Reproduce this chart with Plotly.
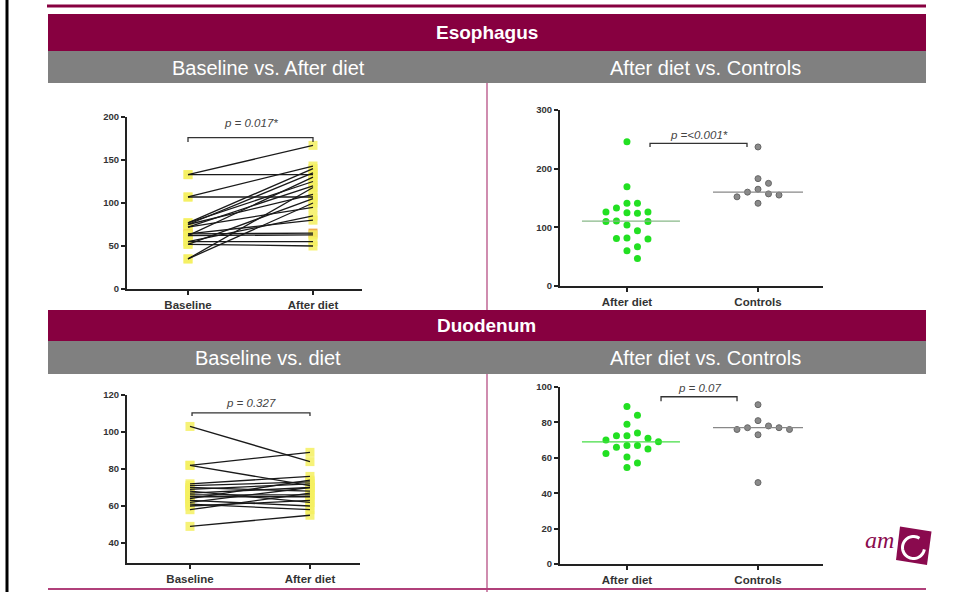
import numpy as np
import plotly.graph_objects as go

W, H = 953, 592
MAROON = "#870040"
BAND_GRAY = "#808080"
LINE_PINK = "#b0407a"

# ---- Esophagus: paired baseline -> after diet ----
eso_baseline = [133, 133, 107, 107, 77, 77, 75, 75, 72, 72, 64, 64, 62, 62, 55, 55, 52, 52, 35, 35]
eso_after = [167, 133, 143, 107, 140, 125, 135, 110, 120, 95, 65, 80, 130, 63, 85, 55, 50, 105, 118, 100]
eso_highlight = [10]  # pair drawn with orange end markers

# ---- Esophagus: after diet vs controls ----
eso_diet_group = [246, 169, 141, 141, 133, 126, 126, 125, 124, 111, 110, 110, 104, 94, 82, 81, 80, 67, 60, 47]
eso_controls = [237, 183, 175, 165, 160, 157, 155, 152, 141]

# ---- Duodenum: paired baseline -> after diet ----
duo_baseline = [103, 82, 82, 72, 71, 70, 69, 68, 67, 66, 65, 64, 63, 62, 61, 60, 58, 49]
duo_after = [84, 89, 71, 76, 73, 68, 72, 62, 70, 66, 65, 74, 60, 70, 58, 63, 67, 55]

# ---- Duodenum: after diet vs controls ----
duo_diet_group = [89, 84, 79, 74, 72.5, 72.5, 71, 70, 69, 67, 67, 66, 65, 62.5, 60.5, 57, 54.5]
duo_controls = [90, 81, 78, 77, 77, 76, 76, 73, 46]

paired_labels = ["Baseline", "After diet"]
group_labels = ["After diet", "Controls"]
p_texts = ["p = 0.017*", "p =<0.001*", "p = 0.327", "p = 0.07"]
band_titles = ["Esophagus", "Duodenum"]
left_titles = ["Baseline vs. After diet", "Baseline vs. diet"]
right_titles = ["After diet vs. Controls", "After diet vs. Controls"]


def px(x):
    return x / W


def py(y):
    return 1 - y / H


# panel frames in pixels: (x0, x1), (ytop, ybottom), axis ranges
panels = {
    1: dict(xpx=(127, 362), ypx=(117, 289), xr=(0.512, 2.392), yr=(0, 200), ticks=[0, 50, 100, 150, 200], labels=paired_labels),
    2: dict(xpx=(560, 823), ypx=(110, 286), xr=(0.489, 2.496), yr=(0, 300), ticks=[0, 100, 200, 300], labels=group_labels),
    3: dict(xpx=(127, 360), ypx=(395, 563), xr=(0.475, 2.417), yr=(29.2, 120), ticks=[40, 60, 80, 100, 120], labels=paired_labels),
    4: dict(xpx=(560, 823), ypx=(387, 564), xr=(0.489, 2.496), yr=(0, 100), ticks=[0, 20, 40, 60, 80, 100], labels=group_labels),
}


def scale(p):
    s = panels[p]
    ux = (s["xpx"][1] - s["xpx"][0]) / (s["xr"][1] - s["xr"][0])
    uy = (s["ypx"][1] - s["ypx"][0]) / (s["yr"][1] - s["yr"][0])
    return ux, uy


def swarm(values, center, p, step=10.5, diam=9.0):
    """Simple beeswarm: spread points sideways so markers do not overlap."""
    ux, uy = scale(p)
    placed = []
    xs = [0.0] * len(values)
    cands = [0]
    for j in range(1, 12):
        cands += [j, -j]
    for i in np.argsort(values)[::-1]:
        yp = values[i] * uy
        for c in cands:
            xp = c * step
            if all((xp - a) ** 2 + (yp - b) ** 2 >= diam ** 2 for a, b in placed):
                break
        placed.append((xp, yp))
        xs[i] = center + xp / ux
    return xs


fig = go.Figure()


def ax(p):
    return ("x" if p == 1 else f"x{p}"), ("y" if p == 1 else f"y{p}")


def paired(p, base, after, highlight=()):
    xa, ya = ax(p)
    mx, my, mc = [], [], []
    for i, (b, a) in enumerate(zip(base, after)):
        col = "#f0a030" if i in highlight else "#f4f060"
        mx += [1, 2]
        my += [b, a]
        mc += [col, col]
    fig.add_trace(go.Scatter(x=mx, y=my, mode="markers", xaxis=xa, yaxis=ya,
                             marker=dict(symbol="square", size=9, color=mc, opacity=0.85,
                                         line=dict(width=0)),
                             hoverinfo="skip", showlegend=False))
    lx, ly = [], []
    for b, a in zip(base, after):
        lx += [1, 2, None]
        ly += [b, a, None]
    fig.add_trace(go.Scatter(x=lx, y=ly, mode="lines", xaxis=xa, yaxis=ya,
                             line=dict(color="#1a1a1a", width=1.3),
                             hoverinfo="skip", showlegend=False))


def groups(p, diet, ctrl):
    xa, ya = ax(p)
    ux, _ = scale(p)
    gx = swarm(diet, 1, p)
    cx = swarm(ctrl, 2, p)
    fig.add_trace(go.Scatter(x=gx, y=diet, mode="markers", xaxis=xa, yaxis=ya,
                             marker=dict(size=7, color="#22e022", line=dict(width=0)),
                             hoverinfo="skip", showlegend=False))
    fig.add_trace(go.Scatter(x=cx, y=ctrl, mode="markers", xaxis=xa, yaxis=ya,
                             marker=dict(size=6, color="#8a8a8a", line=dict(width=1, color="#666")),
                             hoverinfo="skip", showlegend=False))
    md = float(np.median(diet))
    mc = float(np.median(ctrl))
    fig.add_trace(go.Scatter(x=[1 - 45 / ux, 1 + 53 / ux], y=[md, md], mode="lines", xaxis=xa, yaxis=ya,
                             line=dict(color="#44dd44" if p == 4 else "#88b888", width=1.3),
                             hoverinfo="skip", showlegend=False))
    fig.add_trace(go.Scatter(x=[2 - 45 / ux, 2 + 45 / ux], y=[mc, mc], mode="lines", xaxis=xa, yaxis=ya,
                             line=dict(color="#888888", width=1.3),
                             hoverinfo="skip", showlegend=False))


paired(1, eso_baseline, eso_after, eso_highlight)
groups(2, eso_diet_group, eso_controls)
paired(3, duo_baseline, duo_after)
groups(4, duo_diet_group, duo_controls)

# significance brackets: (panel, x0, x1, bar y, tick drop, text y, text)
brackets = [
    (1, 1.0, 2.0, 176, 5, 193, p_texts[0]),
    (2, 1.176, 1.916, 243, 6, 258, p_texts[1]),
    (3, 1.017, 2.0, 110.3, 1.7, 115.8, p_texts[2]),
    (4, 1.26, 1.84, 94.5, 2.5, 99.6, p_texts[3]),
]
annotations = []
for p, x0, x1, yb, drop, yt, txt in brackets:
    xa, ya = ax(p)
    fig.add_trace(go.Scatter(x=[x0, x0, x1, x1], y=[yb - drop, yb, yb, yb - drop], mode="lines",
                             xaxis=xa, yaxis=ya, line=dict(color="#333", width=1.3),
                             hoverinfo="skip", showlegend=False))
    annotations.append(dict(x=(x0 + x1) / 2, y=yt, xref=xa, yref=ya, text=f"<i>{txt}</i>",
                            xanchor="center", yanchor="middle",
                            showarrow=False, font=dict(size=11.5, color="#444", family="Liberation Sans")))

layout_axes = {}
for p, s in panels.items():
    xname = "xaxis" if p == 1 else f"xaxis{p}"
    yname = "yaxis" if p == 1 else f"yaxis{p}"
    xa, ya = ax(p)
    layout_axes[xname] = dict(domain=[px(s["xpx"][0]), px(s["xpx"][1])], range=list(s["xr"]),
                              anchor=ya, showline=True, linecolor="#222", linewidth=2,
                              ticks="outside", ticklen=4, tickwidth=1.5, tickcolor="#222",
                              tickvals=[1, 2], ticktext=s["labels"], showgrid=False, zeroline=False,
                              automargin=False,
                              tickfont=dict(size=11.5, color="#333", family="Liberation Sans", weight="bold"),
                              fixedrange=True)
    layout_axes[yname] = dict(domain=[py(s["ypx"][1]), py(s["ypx"][0])], range=list(s["yr"]),
                              anchor=xa, showline=True, linecolor="#222", linewidth=2,
                              ticks="outside", ticklen=4, tickwidth=1.5, tickcolor="#222",
                              tickvals=s["ticks"], showgrid=False, zeroline=False,
                              automargin=False,
                              tickfont=dict(size=9.5, color="#333", family="Liberation Sans", weight="bold"),
                              fixedrange=True)

shapes = []
# left border and divider
shapes.append(dict(type="line", xref="paper", yref="paper", x0=px(7), x1=px(7), y0=0, y1=1,
                   line=dict(color="#000", width=3)))
shapes.append(dict(type="line", xref="paper", yref="paper", x0=px(487), x1=px(487), y0=py(83), y1=py(592),
                   line=dict(color=LINE_PINK, width=1.2)))
# top and bottom rules
shapes.append(dict(type="line", xref="paper", yref="paper", x0=px(47), x1=px(926), y0=py(6), y1=py(6),
                   line=dict(color=MAROON, width=3)))
shapes.append(dict(type="line", xref="paper", yref="paper", x0=px(48), x1=px(926), y0=py(589), y1=py(589),
                   line=dict(color=LINE_PINK, width=2)))
# section bands
for (t0, t1, g1) in [(14, 51, 83), (310, 341, 374)]:
    shapes.append(dict(type="rect", xref="paper", yref="paper", x0=px(48), x1=px(926), y0=py(t1), y1=py(t0),
                       fillcolor=MAROON, line=dict(width=0)))
    shapes.append(dict(type="rect", xref="paper", yref="paper", x0=px(48), x1=px(926), y0=py(g1), y1=py(t1),
                       fillcolor=BAND_GRAY, line=dict(width=0)))

# logo: tilted square with a white "C"
sq = [(900, 526.5), (931.5, 531.5), (927, 565), (896, 560)]
path = "M " + " L ".join(f"{px(a)},{py(b)}" for a, b in sq) + " Z"
shapes.append(dict(type="path", xref="paper", yref="paper", path=path, fillcolor="#8a0a4e", line=dict(width=0)))
ang = np.radians(np.linspace(57, 350, 40))
cxp, cyp, r = 913.5, 547.5, 11
arc = "M " + " L ".join(f"{px(cxp + r * np.cos(t))},{py(cyp - r * np.sin(t))}" for t in ang)
shapes.append(dict(type="path", xref="paper", yref="paper", path=arc, line=dict(color="white", width=3)))

for i, (tt, yb, yg) in enumerate([(band_titles[0], 33, 68), (band_titles[1], 325, 358)]):
    annotations.append(dict(x=px(487), y=py(yb), xref="paper", yref="paper", text=f"<b>{tt}</b>",
                            xanchor="center", yanchor="middle",
                            showarrow=False, font=dict(size=19, color="white", family="Liberation Sans")))
    annotations.append(dict(x=px(268), y=py(yg), xref="paper", yref="paper", text=left_titles[i],
                            xanchor="center", yanchor="middle",
                            showarrow=False, font=dict(size=20, color="white", family="Liberation Sans")))
    annotations.append(dict(x=px(705), y=py(yg), xref="paper", yref="paper", text=right_titles[i],
                            xanchor="center", yanchor="middle",
                            showarrow=False, font=dict(size=20, color="white", family="Liberation Sans")))

annotations.append(dict(x=px(879), y=py(540), xref="paper", yref="paper", text="<i>am</i>",
                        xanchor="center", yanchor="middle",
                        showarrow=False, font=dict(size=24, color="#8a0a4e", family="Liberation Serif")))

fig.update_layout(width=W, height=H, margin=dict(l=0, r=0, t=0, b=0, pad=0, autoexpand=False),
                  paper_bgcolor="white", plot_bgcolor="white",
                  shapes=shapes, annotations=annotations, showlegend=False, **layout_axes)

fig.write_html("out.html")
